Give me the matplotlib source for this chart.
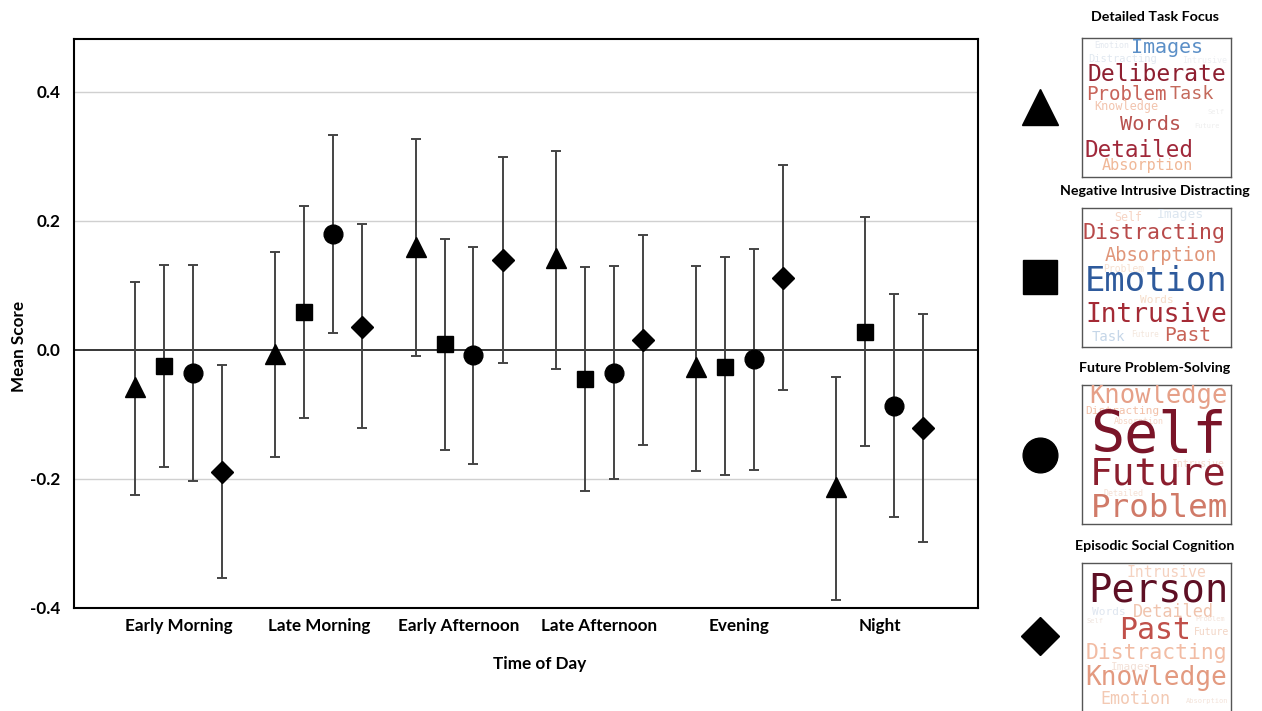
import numpy as np
import matplotlib
matplotlib.use('Agg')
import matplotlib.pyplot as plt

# --- data ---
times = ['Early Morning', 'Late Morning', 'Early Afternoon',
         'Late Afternoon', 'Evening', 'Night']
components = ['Detailed Task Focus', 'Negative Intrusive Distracting',
              'Future Problem-Solving', 'Episodic Social Cognition']

mean_task = [-0.057, -0.006, 0.160, 0.143, -0.027, -0.212]
lo_task = [-0.225, -0.166, -0.010, -0.030, -0.188, -0.388]
hi_task = [0.105, 0.152, 0.327, 0.309, 0.130, -0.042]

mean_neg = [-0.025, 0.059, 0.009, -0.045, -0.026, 0.028]
lo_neg = [-0.181, -0.105, -0.155, -0.218, -0.194, -0.149]
hi_neg = [0.132, 0.223, 0.172, 0.128, 0.144, 0.206]

mean_fut = [-0.036, 0.180, -0.008, -0.036, -0.014, -0.087]
lo_fut = [-0.203, 0.027, -0.177, -0.200, -0.186, -0.259]
hi_fut = [0.132, 0.333, 0.160, 0.130, 0.157, 0.087]

mean_epi = [-0.189, 0.036, 0.140, 0.016, 0.111, -0.121]
lo_epi = [-0.354, -0.121, -0.020, -0.147, -0.062, -0.298]
hi_epi = [-0.023, 0.195, 0.299, 0.178, 0.286, 0.056]

# word clouds (words per component)
words_task = ['Emotion', 'Distracting', 'Intrusive', 'Images', 'Deliberate', 'Problem',
              'Task', 'Knowledge', 'Self', 'Words', 'Future', 'Detailed', 'Absorption']
words_neg = ['Self', 'Images', 'Distracting', 'Absorption', 'Problem', 'Emotion',
             'Words', 'Intrusive', 'Task', 'Future', 'Past']
words_fut = ['Knowledge', 'Distracting', 'Absorption', 'Self', 'Intrusive',
             'Future', 'Detailed', 'Problem']
words_epi = ['Intrusive', 'Person', 'Words', 'Detailed', 'Problem', 'Self', 'Past',
             'Future', 'Distracting', 'Images', 'Knowledge', 'Emotion', 'Absorption']

# layout of the clouds: (x frac, y frac, font size, colour) per word
layout_task = [(0.20, 0.055, 6, '#e4e9f0'), (0.27, 0.15, 7.5, '#e1e8f0'), (0.82, 0.16, 6, '#eef0f3'),
               (0.57, 0.07, 14.4, '#5b8fc7'), (0.50, 0.265, 16.7, '#8e1f30'),
               (0.295, 0.405, 13.8, '#c8645a'), (0.74, 0.405, 13.2, '#c46a5c'),
               (0.30, 0.49, 8.5, '#f2c4ae'), (0.90, 0.53, 5, '#eeeeee'),
               (0.46, 0.62, 14.6, '#b8524f'), (0.84, 0.63, 5, '#eeeeee'),
               (0.38, 0.81, 16.3, '#a0283a'), (0.44, 0.92, 11, '#f0b898')]
layout_neg = [(0.31, 0.07, 8.4, '#f6d4c4'), (0.66, 0.045, 9.4, '#dce6f0'),
              (0.48, 0.18, 15.6, '#b84a4a'), (0.53, 0.34, 13.5, '#e0967a'),
              (0.28, 0.44, 7, '#f7e0d0'), (0.50, 0.53, 24.3, '#2e5a9c'),
              (0.50, 0.66, 8, '#f5dcc8'), (0.50, 0.77, 18.9, '#a42a35'),
              (0.18, 0.925, 10, '#c5d6e8'), (0.42, 0.91, 5.5, '#f3e6dc'),
              (0.71, 0.92, 14, '#c86458')]
layout_fut = [(0.51, 0.08, 18.4, '#e6a088'), (0.27, 0.185, 8, '#f2c0a8'),
              (0.38, 0.26, 6, '#f6d6c6'), (0.51, 0.37, 40.9, '#7a1428'),
              (0.78, 0.565, 7, '#f5dcd0'), (0.51, 0.645, 27.3, '#8b1e2e'),
              (0.28, 0.78, 6, '#f5e0d4'), (0.52, 0.885, 23.4, '#d07a68')]
layout_epi = [(0.57, 0.065, 10.6, '#f5d2c0'), (0.51, 0.20, 27.9, '#5e0f24'),
              (0.18, 0.35, 8, '#dfe6f0'), (0.61, 0.35, 12.2, '#f0c4ae'),
              (0.86, 0.40, 5, '#f3e3da'), (0.09, 0.42, 5, '#f0e6e0'),
              (0.49, 0.485, 21.5, '#c0504a'), (0.87, 0.50, 7, '#f2d4c4'),
              (0.50, 0.65, 15.4, '#f2bca4'), (0.33, 0.75, 8, '#f3e0d6'),
              (0.50, 0.83, 18.8, '#e39a80'), (0.36, 0.98, 12, '#f3c9b3'),
              (0.84, 0.99, 5, '#f3e3da')]

means = [mean_task, mean_neg, mean_fut, mean_epi]
lows = [lo_task, lo_neg, lo_fut, lo_epi]
highs = [hi_task, hi_neg, hi_fut, hi_epi]
markers = ['^', 's', 'o', 'D']
msizes = [15, 12, 13.5, 11.5]
offsets = [-0.31, -0.103, 0.103, 0.31]

plt.rcParams['font.family'] = ['Lato', 'DejaVu Sans']

fig = plt.figure(figsize=(12.62, 7.11), dpi=100)
ax = fig.add_axes([74 / 1262, 1 - 608 / 711, 904 / 1262, 569 / 711])

x = np.arange(len(times))
for m, lo, hi, mk, ms, off in zip(means, lows, highs, markers, msizes, offsets):
    m = np.array(m)
    yerr = [m - np.array(lo), np.array(hi) - m]
    ax.errorbar(x + off, m, yerr=yerr, fmt=mk, color='black', ms=ms,
                ecolor='#444444', elinewidth=1.4, capsize=3.5, capthick=1.4, zorder=3)

ax.axhline(0, color='black', lw=1.1, zorder=2)
for g in [0.4, 0.2, -0.2]:
    ax.axhline(g, color='#d0d0d0', lw=1.0, zorder=1)

ax.set_xlim(-0.745, 5.70)
ax.set_ylim(-0.4, 0.482)
ax.set_yticks([0.4, 0.2, 0.0, -0.2, -0.4])
ax.set_yticklabels(['0.4', '0.2', '0.0', '-0.2', '-0.4'])
ax.set_xticks(x)
ax.set_xticklabels(times)
ax.tick_params(length=0, labelsize=12.3)
ax.tick_params(axis='y', pad=10)
ax.tick_params(axis='x', pad=7)
for lab in ax.get_xticklabels() + ax.get_yticklabels():
    lab.set_fontweight('bold')
for s in ax.spines.values():
    s.set_linewidth(1.5)

ax.set_xlabel('Time of Day', fontsize=12.3, fontweight='bold')
ax.xaxis.set_label_coords(0.515, -0.084)
ax.set_ylabel('Mean Score', fontsize=12.3, fontweight='bold')
ax.yaxis.set_label_coords(-0.052, 0.46)

# --- right-hand legend: marker + word cloud per component ---
box_tops = [38, 208, 385, 563]
title_ys = [17, 191, 368, 546]
marker_ys = [107, 277, 455, 636]
legend_ms = [26, 24, 25, 19]
clouds = [(words_task, layout_task), (words_neg, layout_neg),
          (words_fut, layout_fut), (words_epi, layout_epi)]

for comp, top, ty, my, mk, lms, (words, lay) in zip(components, box_tops, title_ys,
                                                   marker_ys, markers, legend_ms, clouds):
    fig.text(1155 / 1262, 1 - ty / 711, comp, ha='center', va='center',
             fontsize=10.3, fontweight='bold')

    h = 139 if top < 500 else 150
    cax = fig.add_axes([1082 / 1262, 1 - (top + h) / 711, 149 / 1262, h / 711])
    cax.set_xlim(0, 1)
    cax.set_ylim(h / 139, 0)
    cax.set_xticks([])
    cax.set_yticks([])
    for s in cax.spines.values():
        s.set_color('#555555')
        s.set_linewidth(1.0)
    for w, (wx, wy, fs, c) in zip(words, lay):
        cax.text(wx, wy, w, ha='center', va='center', fontsize=fs, color=c,
                 family='DejaVu Sans Mono', clip_on=True)

    max_ = fig.add_axes([1015 / 1262, 1 - (my + 25) / 711, 50 / 1262, 50 / 711])
    max_.plot([0], [0], marker=mk, color='black', ms=lms)
    max_.set_xlim(-1, 1)
    max_.set_ylim(-1, 1)
    max_.axis('off')

fig.savefig('out.png', dpi=100)
